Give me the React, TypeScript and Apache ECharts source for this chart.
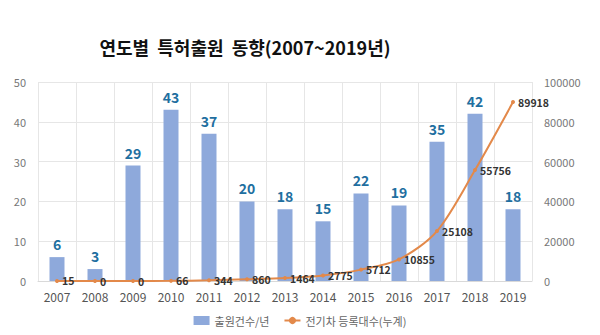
import React, { useEffect, useRef } from "react";
import * as echarts from "echarts";

const years = ["2007","2008","2009","2010","2011","2012","2013","2014","2015","2016","2017","2018","2019"];
const applications = [6, 3, 29, 43, 37, 20, 18, 15, 22, 19, 35, 42, 18];
const evRegistrations = [15, 0, 0, 66, 344, 860, 1464, 2775, 5712, 10855, 25108, 55756, 89918];
const leftTicks = { min: 0, max: 50, interval: 10 };
const rightTicks = { min: 0, max: 100000, interval: 20000 };

export default function App() {
  const ref = useRef<HTMLDivElement>(null);
  useEffect(() => {
    if (!ref.current) return;
    const chart = echarts.init(ref.current, null, { renderer: "svg" });
    const font = "'Noto Sans CJK KR', 'Noto Sans', sans-serif";
    chart.setOption({
      animation: false,
      backgroundColor: "#ffffff",
      textStyle: { fontFamily: font },
      title: {
        text: "연도별  특허출원  동향(2007~2019년)",
        left: 240,
        top: 33,
        textAlign: "center",
        textStyle: { fontSize: 18, fontWeight: "bold", color: "#111", fontFamily: font },
      },
      legend: {
        bottom: 4,
        left: "center",
        itemWidth: 16,
        itemHeight: 9,
        itemGap: 14,
        textStyle: { fontSize: 11, color: "#666", fontFamily: font },
        data: [
          { name: "출원건수/년", icon: "rect" },
          { name: "전기차 등록대수(누계)" },
        ],
      },
      grid: { left: 38, right: 68, top: 82, bottom: 54 },
      xAxis: {
        type: "category",
        data: years,
        axisTick: { show: false },
        axisLine: { lineStyle: { color: "#d9d9d9" } },
        axisLabel: { fontSize: 12, color: "#555", margin: 9 },
        splitLine: { show: true, interval: 0, lineStyle: { color: "#e6e6e6" } },
      },
      yAxis: [
        {
          type: "value",
          min: leftTicks.min,
          max: leftTicks.max,
          interval: leftTicks.interval,
          axisLine: { show: false },
          axisTick: { show: false },
          axisLabel: { fontSize: 11, color: "#777", margin: 12 },
          splitLine: { lineStyle: { color: "#e6e6e6" } },
        },
        {
          type: "value",
          min: rightTicks.min,
          max: rightTicks.max,
          interval: rightTicks.interval,
          axisLine: { show: false },
          axisTick: { show: false },
          axisLabel: { fontSize: 11, color: "#777", margin: 12, formatter: (v: number) => String(v) },
          splitLine: { show: false },
        },
      ],
      series: [
        {
          name: "출원건수/년",
          type: "bar",
          data: applications,
          barWidth: 15,
          itemStyle: { color: "#8ea9db" },
          label: {
            show: true,
            position: "top",
            distance: 6,
            fontSize: 14,
            fontWeight: "bold",
            color: "#1f6fa0",
          },
        },
        {
          name: "전기차 등록대수(누계)",
          type: "line",
          yAxisIndex: 1,
          data: evRegistrations,
          smooth: 0.3,
          symbol: "circle",
          symbolSize: 4,
          lineStyle: { color: "#e3894a", width: 2 },
          itemStyle: { color: "#e3894a" },
          label: {
            show: true,
            position: "right",
            distance: 3,
            fontSize: 10.5,
            fontWeight: "bold",
            color: "#333",
          },
          z: 3,
        },
      ],
    });
    return () => chart.dispose();
  }, []);
  return <div ref={ref} style={{ width: 600, height: 335, position: "absolute", left: 0, top: 0 }} />;
}
